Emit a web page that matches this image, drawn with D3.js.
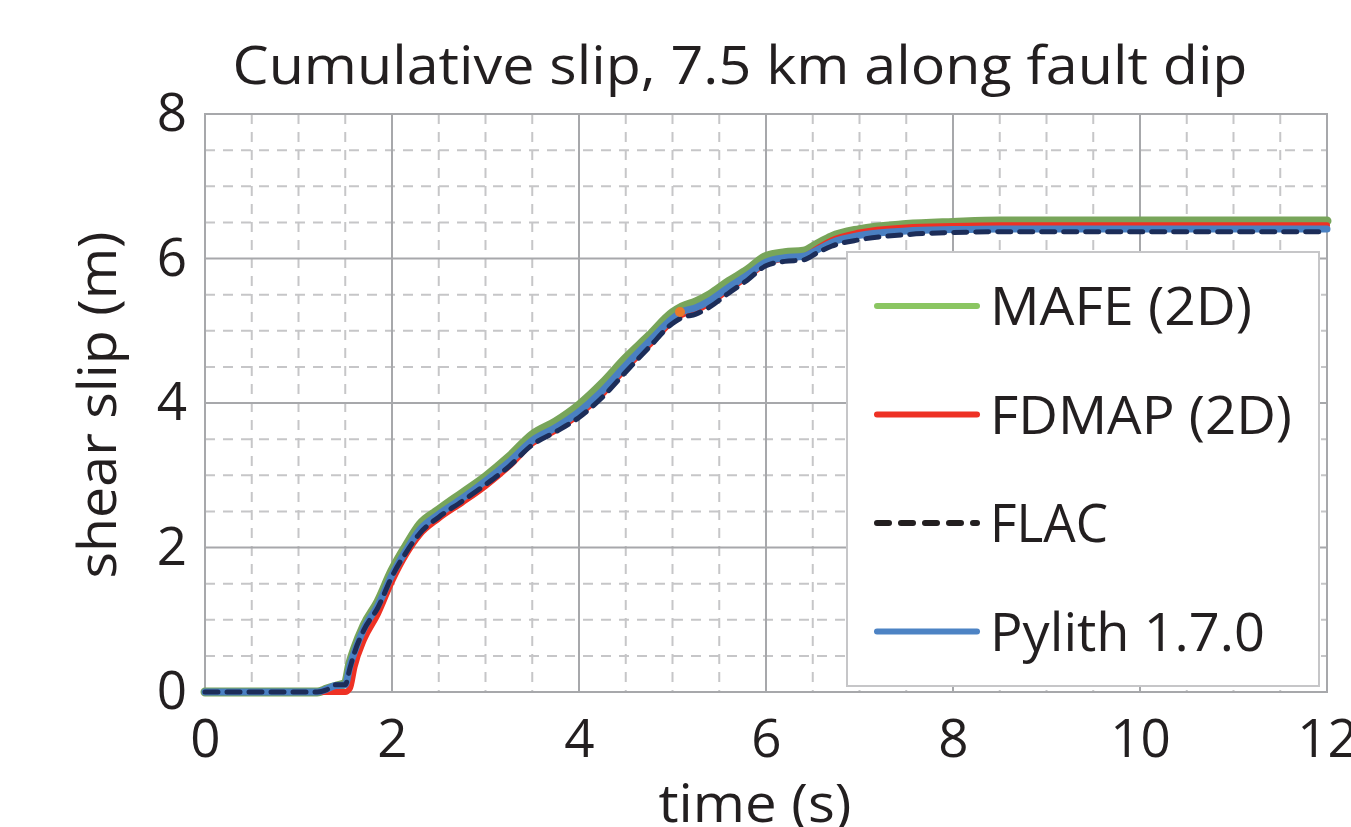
<!DOCTYPE html>
<html>
<head>
<meta charset="utf-8">
<script src="https://cdn.jsdelivr.net/npm/d3@7"></script>
<style>
  body { margin: 0; background: #fff; }
  svg text { font-family: "Open Sans", sans-serif; fill: #231f20; }
</style>
</head>
<body>
<div id="chart"></div>
<script>
// values
const time  = [0, 1.2, 1.3, 1.4, 1.5, 1.55, 1.6, 1.7, 1.85, 2.0, 2.15, 2.3, 2.5, 2.75, 3.0, 3.25, 3.5, 3.75, 4.0, 4.25, 4.5, 4.75, 5.0, 5.1, 5.25, 5.4, 5.6, 5.8, 6.0, 6.2, 6.4, 6.55, 6.7, 7.0, 7.5, 8.0, 8.5, 9, 10, 11, 12];
const mafe  = [0, 0, 0.04, 0.08, 0.12, 0.4, 0.6, 0.92, 1.25, 1.68, 2.02, 2.32, 2.52, 2.75, 2.98, 3.25, 3.56, 3.74, 3.97, 4.27, 4.62, 4.93, 5.25, 5.33, 5.4, 5.5, 5.68, 5.84, 6.03, 6.08, 6.1, 6.2, 6.3, 6.4, 6.47, 6.5, 6.52, 6.52, 6.52, 6.52, 6.52];
const fdmap = [0, 0, 0, 0, 0, 0.05, 0.35, 0.72, 1.08, 1.53, 1.9, 2.18, 2.4, 2.62, 2.85, 3.12, 3.44, 3.62, 3.84, 4.12, 4.48, 4.8, 5.13, 5.22, 5.28, 5.38, 5.57, 5.74, 5.93, 6.0, 6.03, 6.14, 6.25, 6.36, 6.43, 6.45, 6.46, 6.46, 6.46, 6.46, 6.46];
const pylith = [0, 0, 0.04, 0.09, 0.1, 0.36, 0.56, 0.88, 1.2, 1.62, 1.96, 2.25, 2.46, 2.68, 2.92, 3.18, 3.48, 3.66, 3.88, 4.17, 4.52, 4.85, 5.17, 5.26, 5.32, 5.42, 5.6, 5.77, 5.95, 6.01, 6.03, 6.12, 6.22, 6.32, 6.38, 6.4, 6.41, 6.41, 6.41, 6.41, 6.41];
const flac  = [0, 0, 0.03, 0.1, 0.1, 0.33, 0.55, 0.86, 1.17, 1.6, 1.93, 2.2, 2.42, 2.64, 2.87, 3.12, 3.42, 3.6, 3.8, 4.08, 4.43, 4.77, 5.1, 5.18, 5.23, 5.33, 5.52, 5.7, 5.9, 5.96, 5.98, 6.08, 6.17, 6.26, 6.33, 6.36, 6.37, 6.37, 6.37, 6.37, 6.37];

const xTicks = [0, 2, 4, 6, 8, 10, 12];
const yTicks = [0, 2, 4, 6, 8];
const legendNames = ["MAFE (2D)", "FDMAP (2D)", "FLAC", "Pylith 1.7.0"];

// single orange marker sitting on the curves
const markerT = [5.08];
const markerS = [5.26];

const margin = {top: 114, right: 24, bottom: 135, left: 205},
    width = 1351 - margin.left - margin.right,
    height = 827 - margin.top - margin.bottom;

const svg = d3.select("#chart")
  .append("svg")
    .attr("width", 1351)
    .attr("height", 827);

const g = svg.append("g")
    .attr("transform", `translate(${margin.left},${margin.top})`);

const x = d3.scaleLinear().domain([0, 12]).range([0, width]);
const y = d3.scaleLinear().domain([0, 8]).range([height, 0]);

// minor dashed grid
g.append("g")
  .selectAll("line")
  .data(d3.range(0.5, 12, 0.5).filter(d => d % 2 !== 0))
  .join("line")
    .attr("x1", d => x(d)).attr("x2", d => x(d))
    .attr("y1", 0).attr("y2", height)
    .attr("stroke", "#c6c6c8").attr("stroke-width", 2)
    .attr("stroke-dasharray", "10,8");

g.append("g")
  .selectAll("line")
  .data(d3.range(0.5, 8, 0.5).filter(d => d % 2 !== 0))
  .join("line")
    .attr("x1", 0).attr("x2", width)
    .attr("y1", d => y(d)).attr("y2", d => y(d))
    .attr("stroke", "#c6c6c8").attr("stroke-width", 2)
    .attr("stroke-dasharray", "10,8");

// major grid
g.append("g")
  .selectAll("line")
  .data(xTicks)
  .join("line")
    .attr("x1", d => x(d)).attr("x2", d => x(d))
    .attr("y1", 0).attr("y2", height)
    .attr("stroke", "#a7a8ab").attr("stroke-width", 2);

g.append("g")
  .selectAll("line")
  .data(yTicks)
  .join("line")
    .attr("x1", 0).attr("x2", width)
    .attr("y1", d => y(d)).attr("y2", d => y(d))
    .attr("stroke", "#a7a8ab").attr("stroke-width", 2);

// frame
g.append("rect")
  .attr("width", width).attr("height", height)
  .attr("fill", "none")
  .attr("stroke", "#a7a8ab").attr("stroke-width", 2);

// axes (labels only, the grid does the rest)
const xAxis = g.append("g")
  .attr("transform", `translate(0,${height})`)
  .call(d3.axisBottom(x).tickValues(xTicks).tickSize(0).tickPadding(0));
xAxis.select(".domain").remove();
xAxis.selectAll("text")
  .attr("dy", null)
  .attr("y", 65)
  .style("font-size", "53px")
  .style("font-family", "Open Sans")
  .attr("fill", "#231f20");

const yAxis = g.append("g")
  .call(d3.axisLeft(y).tickValues(yTicks).tickSize(0).tickPadding(18));
yAxis.select(".domain").remove();
yAxis.selectAll("text")
  .style("font-size", "53px")
  .style("font-family", "Open Sans")
  .attr("fill", "#231f20");

// curves
const series = [
  {vals: mafe,   color: "#78a55a", w: 9, dash: null},
  {vals: fdmap,  color: "#ee3124", w: 6, dash: null},
  {vals: pylith, color: "#4a80c2", w: 7, dash: null},
  {vals: flac,   color: "#1c2d59", w: 5, dash: "13,9"}
];

const line = d3.line()
  .x(d => x(d[0]))
  .y(d => y(d[1]))
  .curve(d3.curveMonotoneX);

series.forEach(s => {
  g.append("path")
    .datum(time.map((t, i) => [t, s.vals[i]]))
    .attr("d", line)
    .attr("fill", "none")
    .attr("stroke", s.color)
    .attr("stroke-width", s.w)
    .attr("stroke-linecap", "round")
    .attr("stroke-linejoin", "round")
    .attr("stroke-dasharray", s.dash);
});

g.selectAll(".marker")
  .data(markerT)
  .join("circle")
    .attr("cx", d => x(d))
    .attr("cy", (d, i) => y(markerS[i]))
    .attr("r", 5)
    .attr("fill", "#e87a2b");

// legend
const legendColors = ["#8bc662", "#ee3124", "#231f20", "#4d83c4"];
const legendWidths = [262, 302, 118, 275];
const lg = svg.append("g").attr("transform", "translate(847,252)");
lg.append("rect")
  .attr("width", 472).attr("height", 434)
  .attr("fill", "#fff")
  .attr("stroke", "#c6c6c8").attr("stroke-width", 2);

const item = lg.selectAll(".legend")
  .data(legendNames)
  .join("g")
    .attr("class", "legend")
    .attr("transform", (d, i) => `translate(0,${54 + i * 108.5})`);

item.append("line")
  .attr("x1", 30).attr("x2", 130)
  .attr("stroke", (d, i) => legendColors[i])
  .attr("stroke-width", 6)
  .attr("stroke-linecap", "round")
  .attr("stroke-dasharray", (d, i) => i === 2 ? "12,12" : null);

item.append("text")
  .attr("x", 143)
  .attr("dy", "0.36em")
  .style("font-size", "53px")
  .attr("textLength", (d, i) => legendWidths[i])
  .attr("lengthAdjust", "spacingAndGlyphs")
  .text(d => d);

// titles
svg.append("text")
  .attr("x", 740).attr("y", 84)
  .attr("text-anchor", "middle")
  .style("font-size", "53px")
  .attr("textLength", 1015)
  .attr("lengthAdjust", "spacingAndGlyphs")
  .text("Cumulative slip, 7.5 km along fault dip");

svg.append("text")
  .attr("x", 755).attr("y", 822)
  .attr("text-anchor", "middle")
  .style("font-size", "53px")
  .attr("textLength", 193)
  .attr("lengthAdjust", "spacingAndGlyphs")
  .text("time (s)");

svg.append("text")
  .attr("transform", "translate(116,405) rotate(-90)")
  .attr("text-anchor", "middle")
  .style("font-size", "53px")
  .attr("textLength", 347)
  .attr("lengthAdjust", "spacingAndGlyphs")
  .text("shear slip (m)");
</script>
</body>
</html>
